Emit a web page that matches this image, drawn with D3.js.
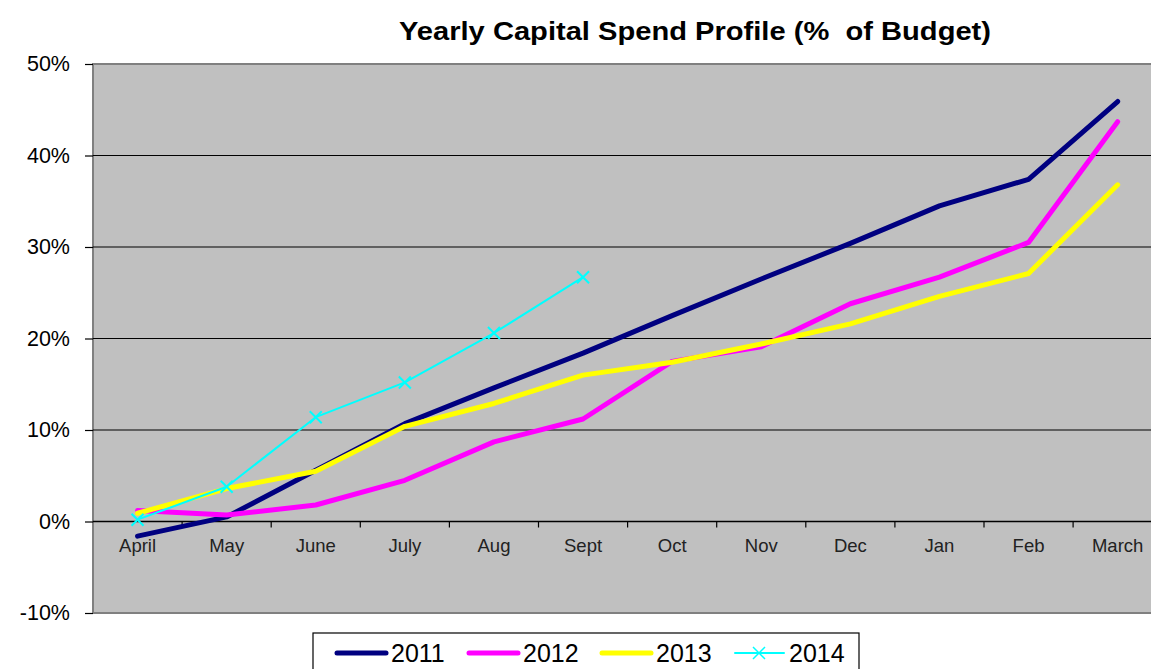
<!DOCTYPE html>
<html>
<head>
<meta charset="utf-8">
<script src="https://cdn.jsdelivr.net/npm/d3@7"></script>
<style>
html,body{margin:0;padding:0;background:#fff;}
svg{display:block;}
text{font-family:"Liberation Sans",Arial,sans-serif;}
</style>
</head>
<body>
<svg id="chart" width="1151" height="669"></svg>
<script>
const months = ["April","May","June","July","Aug","Sept","Oct","Nov","Dec","Jan","Feb","March"];
const s2011 = [-1.6, 0.5, 5.6, 10.7, 14.6, 18.4, 22.5, 26.5, 30.4, 34.5, 37.4, 45.9];
const s2012 = [1.2, 0.7, 1.8, 4.5, 8.7, 11.2, 17.5, 19.1, 23.8, 26.7, 30.5, 43.7];
const s2013 = [0.9, 3.6, 5.5, 10.4, 12.9, 16.0, 17.4, 19.4, 21.6, 24.6, 27.1, 36.8];
const s2014 = [0.2, 3.8, 11.4, 15.2, 20.6, 26.7];
const yTicks = [-10, 0, 10, 20, 30, 40, 50];
const seriesNames = ["2011","2012","2013","2014"];
const seriesColors = ["#000080","#FF00FF","#FFFF00","#00FFFF"];

const series = [
  {name: seriesNames[0], values: s2011, color: seriesColors[0], width: 5, marker: false},
  {name: seriesNames[1], values: s2012, color: seriesColors[1], width: 5, marker: false},
  {name: seriesNames[2], values: s2013, color: seriesColors[2], width: 5, marker: false},
  {name: seriesNames[3], values: s2014, color: seriesColors[3], width: 2, marker: true}
];

const svg = d3.select("#chart");
const plotLeft = 93, plotTop = 64, plotBottom = 613, step = 89.1;
const x = d3.scaleBand().domain(months).range([plotLeft, plotLeft + step * months.length]).padding(0);
const y = d3.scaleLinear().domain([-10, 50]).range([plotBottom, plotTop]);
const cx = m => x(m) + x.bandwidth() / 2;

// plot area
svg.append("rect")
  .attr("x", plotLeft).attr("y", plotTop)
  .attr("width", step * months.length).attr("height", plotBottom - plotTop)
  .attr("fill", "#C0C0C0").attr("stroke", "#808080").attr("stroke-width", 2);

// gridlines
svg.append("g").selectAll("line")
  .data(yTicks.filter(t => t > -10 && t < 50 && t !== 0))
  .join("line")
  .attr("x1", plotLeft).attr("x2", plotLeft + step * months.length)
  .attr("y1", d => y(d)).attr("y2", d => y(d))
  .attr("stroke", "#000").attr("stroke-width", 1.2);

// y axis
const yAxis = d3.axisLeft(y).tickValues(yTicks).tickFormat(d => d + "%").tickSize(8).tickPadding(15);
const gy = svg.append("g").attr("transform", `translate(${plotLeft},0)`).call(yAxis);
gy.select(".domain").remove();
gy.selectAll(".tick line").attr("stroke", "#000").attr("stroke-width", 1.2);
gy.selectAll(".tick text").attr("font-size", 21.5).attr("fill", "#000")
  .attr("font-family", "Liberation Sans, Arial, sans-serif");

// x axis at 0%
const xAxis = d3.axisBottom(x).tickSize(0).tickPadding(17);
const gx = svg.append("g").attr("transform", `translate(0,${y(0)})`).call(xAxis);
gx.select(".domain").attr("stroke", "#000").attr("stroke-width", 1.5)
  .attr("d", `M${plotLeft},0H${plotLeft + step * months.length}`);
gx.selectAll(".tick text").attr("font-size", 18.5).attr("fill", "#222")
  .attr("font-family", "Liberation Sans, Arial, sans-serif");
// band boundary ticks
svg.append("g").selectAll("line")
  .data(months.slice(1))
  .join("line")
  .attr("x1", d => x(d)).attr("x2", d => x(d))
  .attr("y1", y(0)).attr("y2", y(0) + 6)
  .attr("stroke", "#000").attr("stroke-width", 1.2);

// lines
const line = d3.line().x((d, i) => cx(months[i])).y(d => y(d));
series.forEach(s => {
  svg.append("path")
    .datum(s.values)
    .attr("d", line)
    .attr("fill", "none")
    .attr("stroke", s.color)
    .attr("stroke-width", s.width)
    .attr("stroke-linejoin", "round")
    .attr("stroke-linecap", "round");
  if (s.marker) {
    const g = svg.append("g");
    s.values.forEach((v, i) => {
      const px = cx(months[i]), py = y(v), r = 6;
      g.append("path")
        .attr("d", `M${px - r},${py - r}L${px + r},${py + r}M${px - r},${py + r}L${px + r},${py - r}`)
        .attr("stroke", s.color).attr("stroke-width", 2).attr("fill", "none");
    });
  }
});

// title
svg.append("text")
  .attr("x", 695).attr("y", 40)
  .attr("text-anchor", "middle")
  .style("white-space", "pre")
  .attr("font-size", 26).attr("font-weight", "bold")
  .attr("textLength", 592).attr("lengthAdjust", "spacingAndGlyphs")
  .text("Yearly Capital Spend Profile (%  of Budget)");

// legend
const lg = svg.append("g");
lg.append("rect").attr("x", 313).attr("y", 633).attr("width", 546).attr("height", 50)
  .attr("fill", "#fff").attr("stroke", "#000").attr("stroke-width", 1.2);
const legendX = [337, 469, 602, 735];
series.forEach((s, i) => {
  const lx = legendX[i], ly = 653;
  lg.append("line").attr("x1", lx).attr("x2", lx + 49).attr("y1", ly).attr("y2", ly)
    .attr("stroke", s.color).attr("stroke-width", s.marker ? 2 : 5).attr("stroke-linecap", "round");
  if (s.marker) {
    const mx = lx + 24, r = 6;
    lg.append("path").attr("d", `M${mx - r},${ly - r}L${mx + r},${ly + r}M${mx - r},${ly + r}L${mx + r},${ly - r}`)
      .attr("stroke", s.color).attr("stroke-width", 1.5);
  }
  lg.append("text").attr("x", lx + 54).attr("y", ly + 9)
    .attr("font-size", 25).attr("fill", "#000").text(s.name);
});
</script>
</body>
</html>
